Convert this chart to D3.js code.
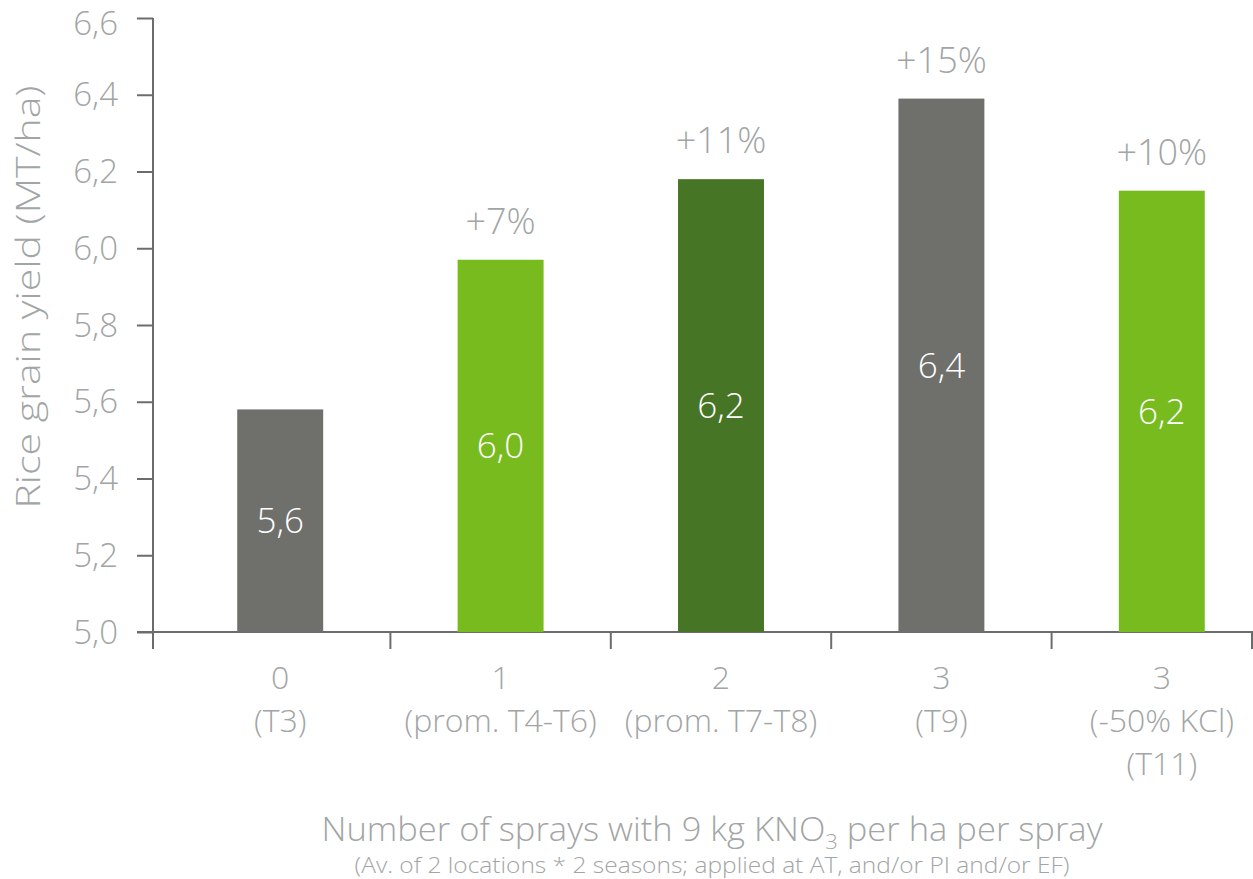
<!DOCTYPE html>
<html>
<head>
<meta charset="utf-8">
<script src="https://cdn.jsdelivr.net/npm/d3@7"></script>
<style>
  body { margin: 0; background: #fff; }
  svg text { font-family: "Open Sans", Lato, sans-serif; font-weight: 300; }
</style>
</head>
<body>
<svg id="chart" width="1253" height="879"></svg>
<script>
// Rice grain yield vs number of KNO3 sprays

var categories = ["T3", "T4-T6", "T7-T8", "T9", "T11"];
var tickLines = [
  ["0", "(T3)"],
  ["1", "(prom. T4-T6)"],
  ["2", "(prom. T7-T8)"],
  ["3", "(T9)"],
  ["3", "(-50% KCl)", "(T11)"]
];
var yields = [5.58, 5.97, 6.18, 6.39, 6.15];
var valueLabels = ["5,6", "6,0", "6,2", "6,4", "6,2"];
var increases = ["", "+7%", "+11%", "+15%", "+10%"];
var barKinds = ["control", "one", "two", "control", "one"];
var yTicks = [5.0, 5.2, 5.4, 5.6, 5.8, 6.0, 6.2, 6.4, 6.6];

var colors = { control: "#6f706c", one: "#78bb1f", two: "#477526" };
var textGrey = "#a2a5a5";
var axisGrey = "#6b6c6c";

var W = 1253;
var svg = d3.select("#chart");
var plotLeft = 153, plotTop = 18, plotBottom = 632;

var y = d3.scaleLinear().domain([5.0, 6.6]).range([plotBottom, plotTop]);
// categories run a little past the right edge, like the original
var x = d3.scaleBand().domain(categories).range([plotLeft + 17, W + 19]).padding(0);
var barW = x.bandwidth() * 0.39;
var mid = function (d) { return x(d) + x.bandwidth() / 2; };

// y axis
var yAxis = d3.axisLeft(y)
  .tickValues(yTicks)
  .tickSize(16)
  .tickSizeOuter(0)
  .tickFormat(function (d) { return d3.format(".1f")(d).replace(".", ","); });

var gy = svg.append("g").attr("transform", "translate(" + plotLeft + ",0)").call(yAxis);
gy.select(".domain").attr("stroke", axisGrey).attr("stroke-width", 2)
  .attr("d", "M0," + plotTop + "V" + (plotBottom + 17));
gy.selectAll(".tick line").attr("stroke", axisGrey).attr("stroke-width", 2);
gy.selectAll(".tick text")
  .attr("x", -35)
  .attr("dy", function (d) { return d === 6.6 ? "0.5em" : "0.34em"; })
  .attr("fill", textGrey)
  .style("font-size", "33px");

// x axis line and separators
svg.append("line")
  .attr("x1", plotLeft - 16).attr("x2", W)
  .attr("y1", plotBottom).attr("y2", plotBottom)
  .attr("stroke", axisGrey).attr("stroke-width", 2);

svg.selectAll(".sep")
  .data(categories.slice(1).concat([null]))
  .enter().append("line")
  .attr("class", "sep")
  .attr("x1", function (d) { return d ? x(d) : W - 1; })
  .attr("x2", function (d) { return d ? x(d) : W - 1; })
  .attr("y1", plotBottom).attr("y2", plotBottom + 17)
  .attr("stroke", axisGrey).attr("stroke-width", 2);

// bars
svg.selectAll(".bar")
  .data(categories)
  .enter().append("rect")
  .attr("class", "bar")
  .attr("x", function (d) { return mid(d) - barW / 2; })
  .attr("width", barW)
  .attr("y", function (d, i) { return y(yields[i]); })
  .attr("height", function (d, i) { return plotBottom - y(yields[i]); })
  .attr("fill", function (d, i) { return colors[barKinds[i]]; });

// values inside bars
svg.selectAll(".val")
  .data(categories)
  .enter().append("text")
  .attr("class", "val")
  .attr("x", mid)
  .attr("y", function (d, i) { return (y(yields[i]) + plotBottom) / 2; })
  .attr("dy", "0.36em")
  .attr("text-anchor", "middle")
  .attr("fill", "#fff")
  .style("font-size", "35px")
  .text(function (d, i) { return valueLabels[i]; });

// increase labels above bars
svg.selectAll(".inc")
  .data(categories)
  .enter().append("text")
  .attr("class", "inc")
  .attr("x", mid)
  .attr("y", function (d, i) { return y(yields[i]) - 26; })
  .attr("text-anchor", "middle")
  .attr("fill", textGrey)
  .style("font-size", "36px")
  .text(function (d, i) { return increases[i]; });

// category labels
var cat = svg.selectAll(".cat")
  .data(categories)
  .enter().append("text")
  .attr("class", "cat")
  .attr("x", mid)
  .attr("y", 689)
  .attr("text-anchor", "middle")
  .attr("fill", textGrey)
  .style("font-size", "32px");

cat.selectAll("tspan")
  .data(function (d, i) { return tickLines[i]; })
  .enter().append("tspan")
  .attr("x", function () { return d3.select(this.parentNode).attr("x"); })
  .attr("dy", function (d, i) { return i ? 43 : 0; })
  .text(function (d) { return d; });

// y title
svg.append("text")
  .attr("transform", "translate(40,297) rotate(-90)")
  .attr("text-anchor", "middle")
  .attr("fill", textGrey)
  .attr("textLength", 423)
  .attr("lengthAdjust", "spacingAndGlyphs")
  .style("font-size", "33px")
  .text("Rice grain yield (MT/ha)");

// x title
var xt = svg.append("text")
  .attr("x", 712).attr("y", 841)
  .attr("text-anchor", "middle")
  .attr("fill", textGrey)
  .attr("textLength", 781)
  .attr("lengthAdjust", "spacingAndGlyphs")
  .style("font-size", "33px");
xt.append("tspan").text("Number of sprays with 9 kg KNO");
xt.append("tspan").attr("dy", 8).style("font-size", "21px").text("3");
xt.append("tspan").attr("dy", -8).text(" per ha per spray");

svg.append("text")
  .attr("x", 712).attr("y", 873)
  .attr("text-anchor", "middle")
  .attr("fill", textGrey)
  .attr("textLength", 715)
  .attr("lengthAdjust", "spacingAndGlyphs")
  .style("font-size", "22px")
  .text("(Av. of 2 locations * 2 seasons; applied at AT, and/or PI and/or EF)");
</script>
</body>
</html>
